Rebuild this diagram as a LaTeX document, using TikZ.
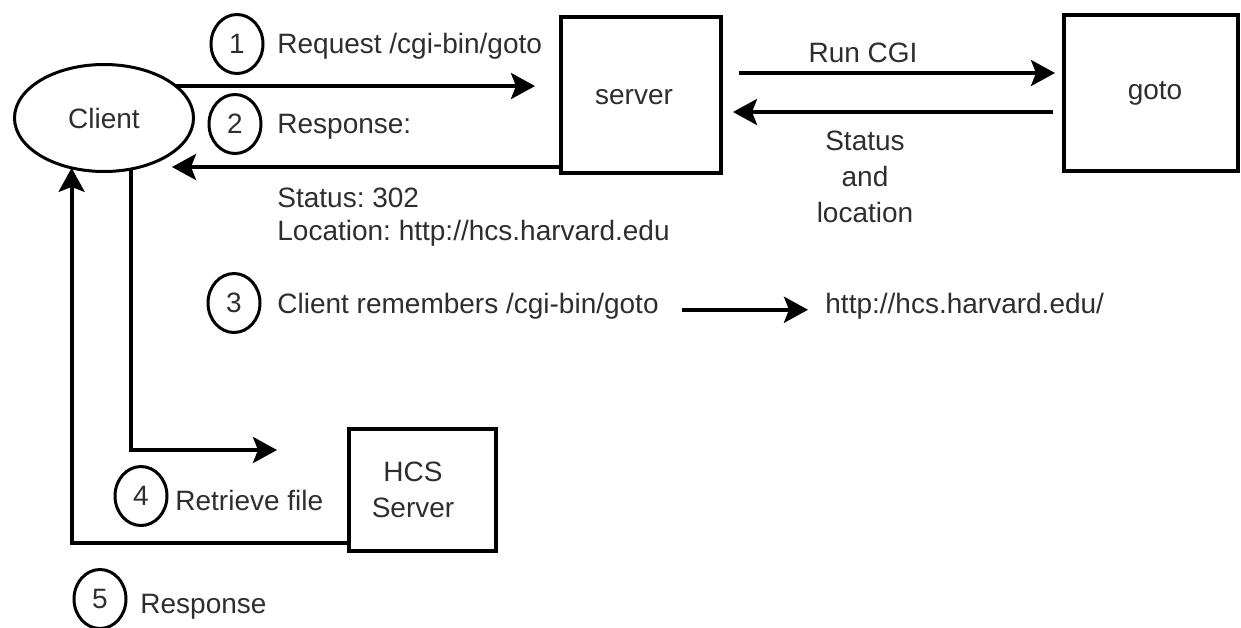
\documentclass[tikz,border=0pt]{standalone}
\usepackage{fontspec}
\setmainfont{Liberation Sans}
\usetikzlibrary{arrows.meta,shapes.geometric}
\frenchspacing
\begin{document}
\begin{tikzpicture}[x=0.5pt,y=-0.5pt,
  every node/.style={font=\fontsize{14pt}{18pt}\selectfont, text=black!82},
  txt/.style={inner sep=0pt, anchor=base west},
  box/.style={draw=black, line width=2pt, inner sep=0pt, outer sep=0pt},
  num/.style={draw=black, ellipse, line width=1.5pt, minimum width=26pt, minimum height=29.5pt, inner sep=0pt, outer sep=0pt},
  arr/.style={draw=black, line width=1.9pt, -{Stealth[length=12pt,width=13pt,inset=2.5pt]}},
  ln/.style={draw=black, line width=1.9pt}
]
\useasboundingbox (0,0) rectangle (1241,627);

% main nodes
\node[draw=black, ellipse, line width=1.5pt, minimum width=89.5pt, minimum height=53.5pt, inner sep=0pt, outer sep=0pt] (client) at (104,118) {Client};
\node[box, minimum width=80pt, minimum height=78pt] (server) at (641,95) {};
\node[inner sep=0pt] (servert) at (634,97) {server};
\node[box, minimum width=87pt, minimum height=78pt] (goto) at (1151,93) {};
\node[inner sep=0pt] (gotot) at (1155,93) {goto};
\node[box, minimum width=73.5pt, minimum height=61pt] (hcs) at (422.5,490) {};
\node[inner sep=0pt, align=center] (hcst) at (413,490) {HCS\\Server};

% numbered circles
\node[num] (n1) at (237,44) {1};
\node[num] (n2) at (235,124) {2};
\node[num] (n3) at (234,303) {3};
\node[num] (n4) at (141,496) {4};
\node[num] (n5) at (100,599) {5};

% labels
\node[txt] (req) at (277,53) {Request /cgi-bin/goto};
\node[txt] (resp) at (277,133) {Response:};
\node[txt] (status) at (277,207) {Status: 302};
\node[txt] (loc) at (277,240) {Location: http://hcs.harvard.edu};
\node[txt] (cr) at (277,313) {Client remembers /cgi-bin/goto};
\node[txt] (url) at (825,313) {http://hcs.harvard.edu/};
\node[inner sep=0pt, anchor=base] (runcgi) at (863,62) {Run CGI};
\node[inner sep=0pt, align=center] (sal) at (865,177) {Status\\and\\location};
\node[txt] (retr) at (175,510) {Retrieve file};
\node[txt] (resp5) at (140,613) {Response};

% helper coordinates (free ends / levels)
\coordinate (a2) at (172,167);
\coordinate (y73) at (900,73);
\coordinate (y112) at (900,112);
\coordinate (a4) at (277,450);
\coordinate (c5) at (71,543);

% connectors
\draw[arr, shorten >=13pt] (client.24) -- (client.24 -| server.west);
\draw[arr] (server.west |- a2) -- (a2);
\draw[arr, shorten <=9pt, shorten >=4.5pt] (server.east |- y73) -- (goto.west |- y73);
\draw[arr, shorten <=5.5pt, shorten >=6pt] (goto.west |- y112) -- (server.east |- y112);
\draw[arr, shorten <=11.5pt, shorten >=8.5pt] ([yshift=-2pt]cr.east) -- ([yshift=-2pt]cr.east -| url.west);
\draw[arr] (client.-62) |- (a4);
\draw[arr] (hcs.west |- c5) -| (client.237);
\end{tikzpicture}
\end{document}
